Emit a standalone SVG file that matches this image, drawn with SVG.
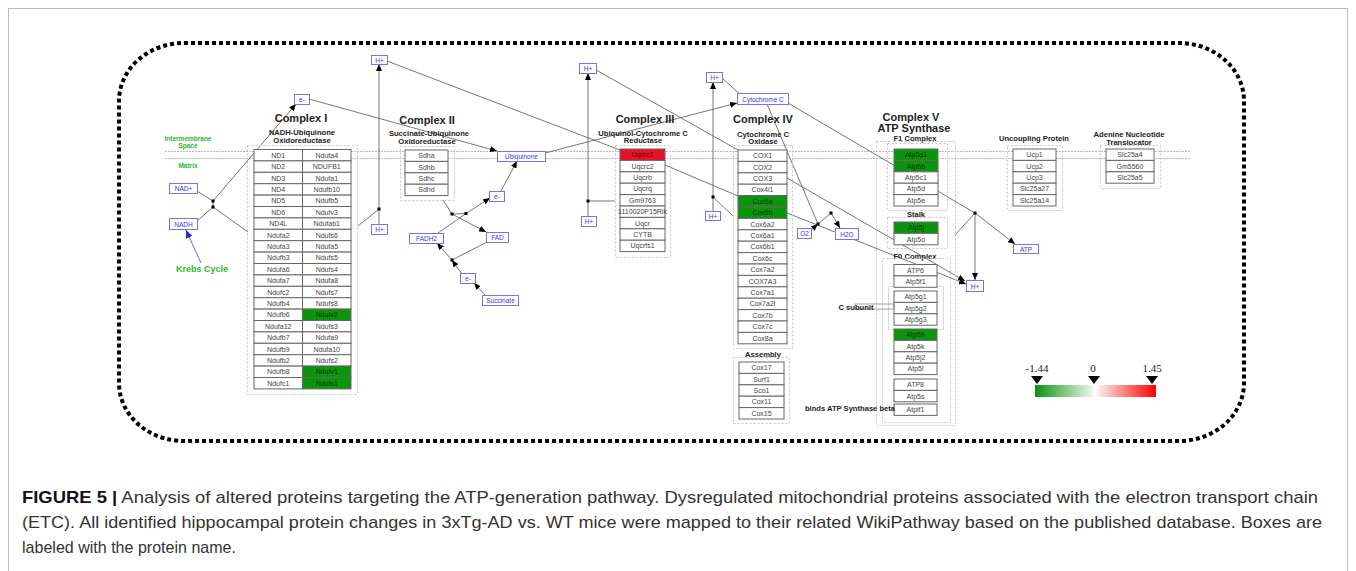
<svg xmlns="http://www.w3.org/2000/svg" width="1356" height="571" viewBox="0 0 1356 571">
<style>
.c{fill:#fff;stroke:#666;stroke-width:1}
.g{fill:#0a960a;stroke:#666;stroke-width:1}
.r{fill:#e8102a;stroke:#666;stroke-width:1}
.t{font-family:"Liberation Sans",Arial,sans-serif;font-size:7px;fill:#444;text-anchor:middle}
.tg{fill:#053005}
.h1{font-family:"Liberation Sans",Arial,sans-serif;font-weight:bold;font-size:11px;fill:#222;text-anchor:middle}
.h2{font-family:"Liberation Sans",Arial,sans-serif;font-weight:bold;font-size:7.6px;fill:#222;text-anchor:middle}
.box{fill:#fff;stroke:#7373f0;stroke-width:1}
.bt{font-family:"Liberation Sans",Arial,sans-serif;font-size:6.5px;fill:#3a3ad8;text-anchor:middle}
.ct{fill:none;stroke:#c4c4c4;stroke-width:1;stroke-dasharray:2 2}
.ln{stroke:#666;stroke-width:0.9;fill:none}
.ar{marker-end:url(#ah)}
.gr{font-family:"Liberation Sans",Arial,sans-serif;font-weight:bold;fill:#2eb82e;text-anchor:middle}
.cap{font-family:"Liberation Sans",Arial,sans-serif;font-size:17px;fill:#333}
</style>
<defs>
<marker id="ah" markerUnits="userSpaceOnUse" markerWidth="7" markerHeight="6" refX="7" refY="3" orient="auto"><path d="M0,0 L7,3 L0,6 z" fill="#000"/></marker>
<marker id="ahb" markerUnits="userSpaceOnUse" markerWidth="8" markerHeight="7" refX="8" refY="3.5" orient="auto"><path d="M0,0 L8,3.5 L0,7 z" fill="#2222dd"/></marker>
<linearGradient id="lg" x1="0" x2="1" y1="0" y2="0">
<stop offset="0" stop-color="#0a930a"/><stop offset="0.46" stop-color="#e6f4e6"/><stop offset="0.5" stop-color="#fff"/><stop offset="0.54" stop-color="#ffe2e2"/><stop offset="1" stop-color="#ff0000"/>
</linearGradient>
</defs>
<rect x="8.5" y="8.5" width="1339" height="570" fill="#fff" stroke="#bbb" stroke-width="1"/>
<rect x="119" y="43" width="1125" height="398" rx="65" ry="58" fill="none" stroke="#000" stroke-width="4" stroke-dasharray="4 3"/>
<g id="membrane">
<line x1="165" y1="151.5" x2="1190" y2="151.5" stroke="#bbb" stroke-width="1" stroke-dasharray="2 1"/>
<line x1="165" y1="158.5" x2="1190" y2="158.5" stroke="#bbb" stroke-width="1" stroke-dasharray="2 1"/>
<text class="gr" x="188" y="141" font-size="6.5">Intermembrane</text>
<text class="gr" x="188" y="148" font-size="6.5">Space</text>
<text class="gr" x="188" y="168" font-size="6.5">Matrix</text>
<text class="gr" x="202" y="272" font-size="9">Krebs Cycle</text>
</g>
<g id="connectors">
<polyline class="ln" points="197,191 213,201"/>
<polyline class="ln" points="197,221 213,207"/>
<line class="ln" x1="213" y1="201" x2="213" y2="207"/>
<line class="ln ar" x1="213" y1="201" x2="296" y2="104"/>
<line class="ln" x1="213" y1="207" x2="248" y2="232"/>
<line stroke="#5555ee" stroke-width="0.9" marker-end="url(#ahb)" x1="201" y1="263" x2="186" y2="230"/>
<line class="ln ar" x1="309" y1="99" x2="497" y2="151"/>
<line class="ln" x1="387" y1="61" x2="620" y2="150"/>
<line class="ln" x1="358" y1="226" x2="379" y2="209"/>
<line class="ln ar" x1="379" y1="209" x2="379" y2="64"/>
<line class="ln" x1="379" y1="209" x2="379" y2="224"/>
<polyline class="ln ar" points="443,200 452,214 486,232"/>
<polyline class="ln ar" points="438,233 466,213.5 490,198"/>
<line class="ln" x1="452" y1="214" x2="466" y2="213.5"/>
<line class="ln ar" x1="486" y1="296" x2="474" y2="283"/>
<line class="ln ar" x1="462" y1="274" x2="452" y2="260"/>
<line class="ln ar" x1="452" y1="260" x2="437" y2="243"/>
<line class="ln" x1="452" y1="260" x2="487" y2="242"/>
<line class="ln ar" x1="501" y1="191" x2="517" y2="161"/>
<line class="ln ar" x1="545" y1="153" x2="737" y2="103"/>
<line class="ln" x1="596" y1="70" x2="738" y2="150"/>
<line class="ln ar" x1="588" y1="201" x2="588" y2="73"/>
<line class="ln" x1="588" y1="201" x2="588" y2="216"/>
<line class="ln" x1="588" y1="201" x2="615" y2="201"/>
<line class="ln" x1="665" y1="165" x2="738" y2="196"/>
<line class="ln ar" x1="713" y1="197" x2="713" y2="82"/>
<line class="ln" x1="713" y1="197" x2="713" y2="211"/>
<line class="ln" x1="713" y1="197" x2="733" y2="216"/>
<line class="ln" x1="722" y1="78" x2="742" y2="96"/>
<line class="ln" x1="767" y1="104" x2="818" y2="224"/>
<line class="ln ar" x1="811" y1="230" x2="818" y2="224"/>
<line class="ln" x1="818" y1="224" x2="831" y2="213"/>
<line class="ln ar" x1="831" y1="213" x2="840" y2="228"/>
<line class="ln" x1="788" y1="103" x2="975" y2="213"/>
<line class="ln ar" x1="787" y1="178" x2="965" y2="281"/>
<line class="ln ar" x1="787" y1="213" x2="966" y2="284"/>
<line class="ln ar" x1="975" y1="213" x2="1015" y2="244"/>
<line class="ln ar" x1="975" y1="213" x2="975" y2="280"/>
<line class="ln" x1="955" y1="235" x2="975" y2="213"/>
<g fill="#000">
<rect x="211.5" y="199.5" width="3" height="3"/><rect x="211.5" y="205.5" width="3" height="3"/>
<rect x="377.5" y="207.5" width="3" height="3"/>
<rect x="450.5" y="212.5" width="3" height="3"/><rect x="464.5" y="212" width="3" height="3"/>
<rect x="450.5" y="258.5" width="3" height="3"/>
<rect x="586.5" y="199.5" width="3" height="3"/>
<rect x="711.5" y="195.5" width="3" height="3"/>
<rect x="816.5" y="222.5" width="3" height="3"/><rect x="829.5" y="211.5" width="3" height="3"/>
<rect x="973.5" y="211.5" width="3" height="3"/>
</g>
</g>
<g id="complex1">
<text class="h1" x="301" y="122">Complex I</text>
<text class="h2" x="302" y="134.5">NADH-Ubiquinone</text>
<text class="h2" x="302" y="142.5">Oxidoreductase</text>
<rect class="ct" x="247.5" y="145.5" width="110" height="249"/>
<g transform="translate(254,149.5)">
<rect class="c" x="0" y="0" width="48.5" height="11.4"/><rect class="c" x="48.5" y="0" width="48.5" height="11.4"/>
<rect class="c" x="0" y="11.4" width="48.5" height="11.4"/><rect class="c" x="48.5" y="11.4" width="48.5" height="11.4"/>
<rect class="c" x="0" y="22.8" width="48.5" height="11.4"/><rect class="c" x="48.5" y="22.8" width="48.5" height="11.4"/>
<rect class="c" x="0" y="34.2" width="48.5" height="11.4"/><rect class="c" x="48.5" y="34.2" width="48.5" height="11.4"/>
<rect class="c" x="0" y="45.6" width="48.5" height="11.4"/><rect class="c" x="48.5" y="45.6" width="48.5" height="11.4"/>
<rect class="c" x="0" y="57" width="48.5" height="11.4"/><rect class="c" x="48.5" y="57" width="48.5" height="11.4"/>
<rect class="c" x="0" y="68.4" width="48.5" height="11.4"/><rect class="c" x="48.5" y="68.4" width="48.5" height="11.4"/>
<rect class="c" x="0" y="79.8" width="48.5" height="11.4"/><rect class="c" x="48.5" y="79.8" width="48.5" height="11.4"/>
<rect class="c" x="0" y="91.2" width="48.5" height="11.4"/><rect class="c" x="48.5" y="91.2" width="48.5" height="11.4"/>
<rect class="c" x="0" y="102.6" width="48.5" height="11.4"/><rect class="c" x="48.5" y="102.6" width="48.5" height="11.4"/>
<rect class="c" x="0" y="114" width="48.5" height="11.4"/><rect class="c" x="48.5" y="114" width="48.5" height="11.4"/>
<rect class="c" x="0" y="125.4" width="48.5" height="11.4"/><rect class="c" x="48.5" y="125.4" width="48.5" height="11.4"/>
<rect class="c" x="0" y="136.8" width="48.5" height="11.4"/><rect class="c" x="48.5" y="136.8" width="48.5" height="11.4"/>
<rect class="c" x="0" y="148.2" width="48.5" height="11.4"/><rect class="c" x="48.5" y="148.2" width="48.5" height="11.4"/>
<rect class="c" x="0" y="159.6" width="48.5" height="11.4"/><rect class="g" x="48.5" y="159.6" width="48.5" height="11.4"/>
<rect class="c" x="0" y="171" width="48.5" height="11.4"/><rect class="c" x="48.5" y="171" width="48.5" height="11.4"/>
<rect class="c" x="0" y="182.4" width="48.5" height="11.4"/><rect class="c" x="48.5" y="182.4" width="48.5" height="11.4"/>
<rect class="c" x="0" y="193.8" width="48.5" height="11.4"/><rect class="c" x="48.5" y="193.8" width="48.5" height="11.4"/>
<rect class="c" x="0" y="205.2" width="48.5" height="11.4"/><rect class="c" x="48.5" y="205.2" width="48.5" height="11.4"/>
<rect class="c" x="0" y="216.6" width="48.5" height="11.4"/><rect class="g" x="48.5" y="216.6" width="48.5" height="11.4"/>
<rect class="c" x="0" y="228" width="48.5" height="11.4"/><rect class="g" x="48.5" y="228" width="48.5" height="11.4"/>
<text class="t" x="24.25" y="8.2">ND1</text><text class="t" x="72.75" y="8.2">Ndufa4</text>
<text class="t" x="24.25" y="19.6">ND2</text><text class="t" x="72.75" y="19.6">NDUFB1</text>
<text class="t" x="24.25" y="31">ND3</text><text class="t" x="72.75" y="31">Ndufa1</text>
<text class="t" x="24.25" y="42.4">ND4</text><text class="t" x="72.75" y="42.4">Ndufb10</text>
<text class="t" x="24.25" y="53.8">ND5</text><text class="t" x="72.75" y="53.8">Ndufb5</text>
<text class="t" x="24.25" y="65.2">ND6</text><text class="t" x="72.75" y="65.2">Ndufv3</text>
<text class="t" x="24.25" y="76.6">ND4L</text><text class="t" x="72.75" y="76.6">Ndufab1</text>
<text class="t" x="24.25" y="88">Ndufa2</text><text class="t" x="72.75" y="88">Ndufs6</text>
<text class="t" x="24.25" y="99.4">Ndufa3</text><text class="t" x="72.75" y="99.4">Ndufa5</text>
<text class="t" x="24.25" y="110.8">Ndufb3</text><text class="t" x="72.75" y="110.8">Ndufs5</text>
<text class="t" x="24.25" y="122.2">Ndufa6</text><text class="t" x="72.75" y="122.2">Ndufs4</text>
<text class="t" x="24.25" y="133.6">Ndufa7</text><text class="t" x="72.75" y="133.6">Ndufa8</text>
<text class="t" x="24.25" y="145">Ndufc2</text><text class="t" x="72.75" y="145">Ndufs7</text>
<text class="t" x="24.25" y="156.4">Ndufb4</text><text class="t" x="72.75" y="156.4">Ndufs8</text>
<text class="t" x="24.25" y="167.8">Ndufb6</text><text class="t tg" x="72.75" y="167.8">Ndufv2</text>
<text class="t" x="24.25" y="179.2">Ndufa12</text><text class="t" x="72.75" y="179.2">Ndufs3</text>
<text class="t" x="24.25" y="190.6">Ndufb7</text><text class="t" x="72.75" y="190.6">Ndufa9</text>
<text class="t" x="24.25" y="202">Ndufb9</text><text class="t" x="72.75" y="202">Ndufa10</text>
<text class="t" x="24.25" y="213.4">Ndufb2</text><text class="t" x="72.75" y="213.4">Ndufs2</text>
<text class="t" x="24.25" y="224.8">Ndufb8</text><text class="t tg" x="72.75" y="224.8">Ndufv1</text>
<text class="t" x="24.25" y="236.2">Ndufc1</text><text class="t tg" x="72.75" y="236.2">Ndufs1</text>
</g>
</g>
<g id="complex2">
<text class="h1" x="427" y="124">Complex II</text>
<text class="h2" x="429" y="135.5">Succinate-Ubiquinone</text>
<text class="h2" x="427" y="143.5">Oxidoreductase</text>
<rect class="ct" x="400.5" y="146.5" width="54" height="54"/>
<g transform="translate(405,150)">
<rect class="c" x="0" y="0" width="43" height="11.4"/><rect class="c" x="0" y="11.4" width="43" height="11.4"/><rect class="c" x="0" y="22.8" width="43" height="11.4"/><rect class="c" x="0" y="34.2" width="43" height="11.4"/>
<text class="t" x="21.5" y="8.2">Sdha</text><text class="t" x="21.5" y="19.6">Sdhb</text><text class="t" x="21.5" y="31">Sdhc</text><text class="t" x="21.5" y="42.4">Sdhd</text>
</g>
</g>
<g id="complex3">
<text class="h1" x="645" y="123">Complex III</text>
<text class="h2" x="643" y="135.5">Ubiquinol-Cytochrome C</text>
<text class="h2" x="643" y="143">Reductase</text>
<rect class="ct" x="615.5" y="145.5" width="55" height="112"/>
<g transform="translate(620,149)">
<rect class="r" x="0" y="0" width="45" height="11.4"/>
<rect class="c" x="0" y="11.4" width="45" height="11.4"/><rect class="c" x="0" y="22.8" width="45" height="11.4"/><rect class="c" x="0" y="34.2" width="45" height="11.4"/><rect class="c" x="0" y="45.6" width="45" height="11.4"/><rect class="c" x="0" y="57" width="45" height="11.4"/><rect class="c" x="0" y="68.4" width="45" height="11.4"/><rect class="c" x="0" y="79.8" width="45" height="11.4"/><rect class="c" x="0" y="91.2" width="45" height="11.4"/>
<text class="t" x="22.5" y="8.2" style="fill:#6a0000">Uqcrc1</text>
<text class="t" x="22.5" y="19.6">Uqcrc2</text><text class="t" x="22.5" y="31">Uqcrb</text><text class="t" x="22.5" y="42.4">Uqcrq</text><text class="t" x="22.5" y="53.8">Gm9763</text><text class="t" x="22.5" y="65.2">1110020P15Rik</text><text class="t" x="22.5" y="76.6">Uqcr</text><text class="t" x="22.5" y="88">CYTB</text><text class="t" x="22.5" y="99.4">Uqcrfs1</text>
</g>
</g>
<g id="complex4">
<text class="h1" x="763" y="123">Complex IV</text>
<text class="h2" x="763" y="136.5">Cytochrome C</text>
<text class="h2" x="763" y="143.5">Oxidase</text>
<rect class="ct" x="733.5" y="145.5" width="59" height="203"/>
<g transform="translate(738,150)">
<rect class="c" x="0" y="0" width="49" height="11.4"/><rect class="c" x="0" y="11.4" width="49" height="11.4"/><rect class="c" x="0" y="22.8" width="49" height="11.4"/><rect class="c" x="0" y="34.2" width="49" height="11.4"/><rect class="g" x="0" y="45.6" width="49" height="11.4"/><rect class="g" x="0" y="57" width="49" height="11.4"/><rect class="c" x="0" y="68.4" width="49" height="11.4"/><rect class="c" x="0" y="79.8" width="49" height="11.4"/><rect class="c" x="0" y="91.2" width="49" height="11.4"/><rect class="c" x="0" y="102.6" width="49" height="11.4"/><rect class="c" x="0" y="114" width="49" height="11.4"/><rect class="c" x="0" y="125.4" width="49" height="11.4"/><rect class="c" x="0" y="136.8" width="49" height="11.4"/><rect class="c" x="0" y="148.2" width="49" height="11.4"/><rect class="c" x="0" y="159.6" width="49" height="11.4"/><rect class="c" x="0" y="171" width="49" height="11.4"/><rect class="c" x="0" y="182.4" width="49" height="11.4"/>
<text class="t" x="24.5" y="8.2">COX1</text><text class="t" x="24.5" y="19.6">COX2</text><text class="t" x="24.5" y="31">COX3</text><text class="t" x="24.5" y="42.4">Cox4i1</text><text class="t tg" x="24.5" y="53.8">Cox5a</text><text class="t tg" x="24.5" y="65.2">Cox5b</text><text class="t" x="24.5" y="76.6">Cox6a2</text><text class="t" x="24.5" y="88">Cox6a1</text><text class="t" x="24.5" y="99.4">Cox6b1</text><text class="t" x="24.5" y="110.8">Cox6c</text><text class="t" x="24.5" y="122.2">Cox7a2</text><text class="t" x="24.5" y="133.6">COX7A3</text><text class="t" x="24.5" y="145">Cox7a1</text><text class="t" x="24.5" y="156.4">Cox7a2l</text><text class="t" x="24.5" y="167.8">Cox7b</text><text class="t" x="24.5" y="179.2">Cox7c</text><text class="t" x="24.5" y="190.6">Cox8a</text>
</g>
</g>
<g id="assembly">
<text class="h2" x="763" y="357" font-size="8">Assembly</text>
<rect class="ct" x="733.5" y="357.5" width="56" height="66"/>
<g transform="translate(739,362)">
<rect class="c" x="0" y="0" width="45" height="11.4"/><rect class="c" x="0" y="11.4" width="45" height="11.4"/><rect class="c" x="0" y="22.8" width="45" height="11.4"/><rect class="c" x="0" y="34.2" width="45" height="11.4"/><rect class="c" x="0" y="45.6" width="45" height="11.4"/>
<text class="t" x="22.5" y="8.2">Cox17</text><text class="t" x="22.5" y="19.6">Surf1</text><text class="t" x="22.5" y="31">Sco1</text><text class="t" x="22.5" y="42.4">Cox11</text><text class="t" x="22.5" y="53.8">Cox15</text>
</g>
</g>
<g id="complex5">
<text class="h1" x="911" y="121">Complex V</text>
<text class="h1" x="914" y="132">ATP Synthase</text>
<text class="h2" x="915" y="141">F1 Complex</text>
<rect class="ct" x="876.5" y="141.5" width="79" height="284"/>
<rect class="ct" x="887.5" y="143.5" width="60" height="67"/>
<g transform="translate(894,149)">
<rect class="g" x="0" y="0" width="44" height="11.4"/><rect class="g" x="0" y="11.4" width="44" height="11.4"/><rect class="c" x="0" y="22.8" width="44" height="11.4"/><rect class="c" x="0" y="34.2" width="44" height="11.4"/><rect class="c" x="0" y="45.6" width="44" height="11.4"/>
<text class="t tg" x="22" y="8.2">Atp5a1</text><text class="t tg" x="22" y="19.6">Atp5b</text><text class="t" x="22" y="31">Atp5c1</text><text class="t" x="22" y="42.4">Atp5d</text><text class="t" x="22" y="53.8">Atp5e</text>
</g>
<text class="h2" x="916" y="217" font-size="8">Stalk</text>
<rect class="ct" x="887.5" y="217.5" width="60" height="31"/>
<g transform="translate(894,222)">
<rect class="g" x="0" y="0" width="44" height="11.4"/><rect class="c" x="0" y="11.4" width="44" height="11.4"/>
<text class="t tg" x="22" y="8.2">Atp5j</text><text class="t" x="22" y="19.6">Atp5o</text>
</g>
<text class="h2" x="915" y="259" font-size="8">F0 Complex</text>
<rect class="ct" x="882.5" y="258.5" width="68" height="164"/>
<rect x="888.5" y="286.5" width="55" height="43" fill="none" stroke="#d8d8d8" stroke-width="1"/>
<g transform="translate(894,264.5)">
<rect class="c" x="0" y="0" width="43" height="11.4"/><rect class="c" x="0" y="11.4" width="43" height="11.4"/>
<rect class="c" x="0" y="26.5" width="43" height="11.4"/><rect class="c" x="0" y="37.9" width="43" height="11.4"/><rect class="c" x="0" y="49.3" width="43" height="11.4"/>
<rect class="g" x="0" y="64.5" width="43" height="11.4"/><rect class="c" x="0" y="75.9" width="43" height="11.4"/><rect class="c" x="0" y="87.3" width="43" height="11.4"/><rect class="c" x="0" y="98.7" width="43" height="11.4"/>
<rect class="c" x="0" y="114.5" width="43" height="11.4"/><rect class="c" x="0" y="125.9" width="43" height="11.4"/>
<rect class="c" x="0" y="139.5" width="43" height="11.4"/>
<text class="t" x="21.5" y="8.2">ATP6</text><text class="t" x="21.5" y="19.6">Atp5f1</text>
<text class="t" x="21.5" y="34.7">Atp5g1</text><text class="t" x="21.5" y="46.1">Atp5g2</text><text class="t" x="21.5" y="57.5">Atp5g3</text>
<text class="t tg" x="21.5" y="72.7">Atp5h</text><text class="t" x="21.5" y="84.1">Atp5k</text><text class="t" x="21.5" y="95.5">Atp5j2</text><text class="t" x="21.5" y="106.9">Atp5l</text>
<text class="t" x="21.5" y="122.7">ATP8</text><text class="t" x="21.5" y="134.1">Atp5s</text>
<text class="t" x="21.5" y="147.7">Atpif1</text>
</g>
<rect x="855" y="304" width="39" height="5" fill="none" stroke="#888" stroke-width="0.8"/>
<text class="h2" x="856" y="310" font-size="7">C subunit</text>
<text class="h2" x="850" y="411" font-size="7">binds ATP Synthase beta</text>
</g>
<g id="uncoupling">
<text class="h2" x="1034" y="141" font-size="8">Uncoupling Protein</text>
<rect class="ct" x="1007.5" y="145.5" width="55" height="65"/>
<g transform="translate(1013,149)">
<rect class="c" x="0" y="0" width="43" height="11.4"/><rect class="c" x="0" y="11.4" width="43" height="11.4"/><rect class="c" x="0" y="22.8" width="43" height="11.4"/><rect class="c" x="0" y="34.2" width="43" height="11.4"/><rect class="c" x="0" y="45.6" width="43" height="11.4"/>
<text class="t" x="21.5" y="8.2">Ucp1</text><text class="t" x="21.5" y="19.6">Ucp2</text><text class="t" x="21.5" y="31">Ucp3</text><text class="t" x="21.5" y="42.4">Slc25a27</text><text class="t" x="21.5" y="53.8">Slc25a14</text>
</g>
</g>
<g id="ant">
<text class="h2" x="1129" y="137" font-size="8">Adenine Nucleotide</text>
<text class="h2" x="1129" y="145" font-size="8">Translocator</text>
<rect class="ct" x="1100.5" y="145.5" width="60" height="43"/>
<g transform="translate(1106,149)">
<rect class="c" x="0" y="0" width="48" height="11.4"/><rect class="c" x="0" y="11.4" width="48" height="11.4"/><rect class="c" x="0" y="22.8" width="48" height="11.4"/>
<text class="t" x="24" y="8.2">Slc25a4</text><text class="t" x="24" y="19.6">Gm5560</text><text class="t" x="24" y="31">Slc25a5</text>
</g>
</g>
<g id="nad_plus"><rect class="box" x="169.5" y="183.5" width="28" height="10"/><text class="bt" x="183.5" y="191">NAD+</text></g>
<g id="nadh"><rect class="box" x="169.5" y="218.5" width="28" height="11"/><text class="bt" x="183.5" y="226.5">NADH</text></g>
<g id="e_c1"><rect class="box" x="294.5" y="94.5" width="15" height="10"/><text class="bt" x="302" y="102">e-</text></g>
<g id="hplus_c1_top"><rect class="box" x="371.5" y="55.5" width="16" height="9"/><text class="bt" x="379.5" y="62.5">H+</text></g>
<g id="hplus_c1_low"><rect class="box" x="371.5" y="224.5" width="16" height="10"/><text class="bt" x="379.5" y="232">H+</text></g>
<g id="ubiquinone"><rect class="box" x="497.5" y="151.5" width="48" height="10"/><text class="bt" x="521.5" y="159">Ubiquinone</text></g>
<g id="e_c2"><rect class="box" x="489.5" y="191.5" width="15" height="10"/><text class="bt" x="497" y="199">e-</text></g>
<g id="fadh2"><rect class="box" x="409.5" y="233.5" width="34" height="10"/><text class="bt" x="426.5" y="241">FADH2</text></g>
<g id="fad"><rect class="box" x="486.5" y="232.5" width="22" height="10"/><text class="bt" x="497.5" y="240">FAD</text></g>
<g id="e_succ"><rect class="box" x="460.5" y="273.5" width="15" height="10"/><text class="bt" x="468" y="281">e-</text></g>
<g id="succinate"><rect class="box" x="482.5" y="295.5" width="36" height="10"/><text class="bt" x="500.5" y="303">Succinate</text></g>
<g id="hplus_c3_top"><rect class="box" x="579.5" y="63.5" width="17" height="10"/><text class="bt" x="588" y="71">H+</text></g>
<g id="hplus_c3_low"><rect class="box" x="581.5" y="216.5" width="15" height="10"/><text class="bt" x="589" y="224">H+</text></g>
<g id="hplus_c4_top"><rect class="box" x="706.5" y="72.5" width="16" height="10"/><text class="bt" x="714.5" y="80">H+</text></g>
<g id="hplus_c4_low"><rect class="box" x="705.5" y="211.5" width="15" height="9"/><text class="bt" x="713" y="218.5">H+</text></g>
<g id="cytochrome_c"><rect class="box" x="737.5" y="93.5" width="51" height="11"/><text class="bt" x="763" y="101.5">Cytochrome C</text></g>
<g id="o2"><rect class="box" x="797.5" y="228.5" width="14" height="10"/><text class="bt" x="804.5" y="236">O2</text></g>
<g id="h2o"><rect class="box" x="835.5" y="228.5" width="23" height="11"/><text class="bt" x="847" y="236.5">H2O</text></g>
<g id="atp"><rect class="box" x="1013.5" y="244.5" width="25" height="9"/><text class="bt" x="1026" y="251.5">ATP</text></g>
<g id="hplus_c5"><rect class="box" x="966.5" y="280.5" width="17" height="11"/><text class="bt" x="975" y="288.5">H+</text></g>
<g id="legend">
<rect x="1035" y="385" width="121" height="12" fill="url(#lg)"/>
<path d="M1031,376 L1043,376 L1037,384 z M1088,376 L1100,376 L1094,384 z M1146,376 L1158,376 L1152,384 z" fill="#000"/>
<g font-family="Liberation Serif,serif" font-size="11" fill="#222" text-anchor="middle">
<text x="1037" y="372">-1.44</text><text x="1093" y="372">0</text><text x="1152" y="372">1.45</text>
</g>
</g>
<g id="caption">
<text class="cap" x="22" y="503" textLength="1296" lengthAdjust="spacingAndGlyphs"><tspan font-weight="bold" fill="#111">FIGURE 5 |</tspan> Analysis of altered proteins targeting the ATP-generation pathway. Dysregulated mitochondrial proteins associated with the electron transport chain</text>
<text class="cap" x="22" y="528" textLength="1300" lengthAdjust="spacingAndGlyphs">(ETC). All identified hippocampal protein changes in 3xTg-AD vs. WT mice were mapped to their related WikiPathway based on the published database. Boxes are</text>
<text class="cap" x="22" y="553" textLength="214" lengthAdjust="spacingAndGlyphs">labeled with the protein name.</text>
</g>
</svg>
